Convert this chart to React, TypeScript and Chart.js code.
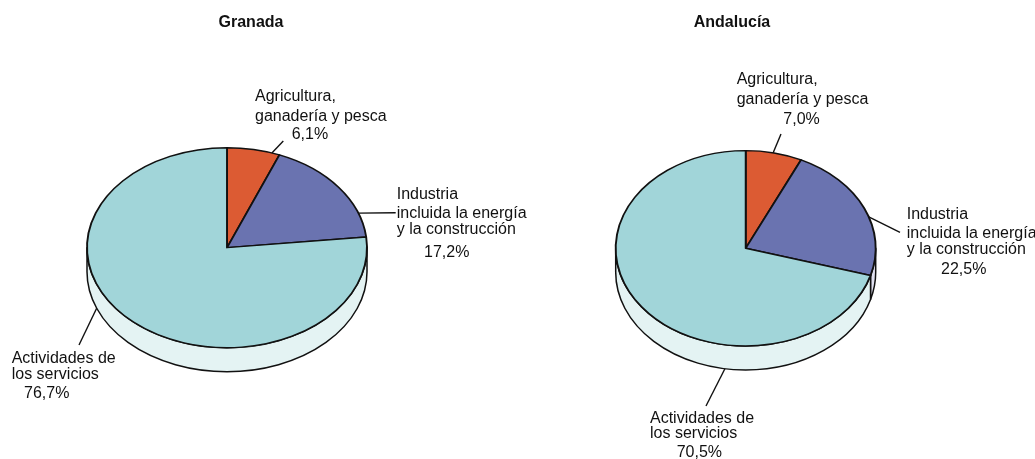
import React, { useEffect, useRef } from "react";
import { Chart, registerables } from "chart.js";

Chart.register(...registerables);

// ---- Data ----
const categories = [
  "Agricultura, ganadería y pesca",
  "Industria incluida la energía y la construcción",
  "Actividades de los servicios",
];
const categoryLines = [
  ["Agricultura,", "ganadería y pesca"],
  ["Industria", "incluida la energía", "y la construcción"],
  ["Actividades de", "los servicios"],
];
const chartTitles = ["Granada", "Andalucía"];
const granadaValues = [6.1, 17.2, 76.7];
const andaluciaValues = [7.0, 22.5, 70.5];
const granadaPctLabels = ["6,1%", "17,2%", "76,7%"];
const andaluciaPctLabels = ["7,0%", "22,5%", "70,5%"];

// ---- Styles ----
const topColors = ["#dc5b33", "#6a73b0", "#a1d5d9"];
const sideColors = ["#f3d3c6", "#e0e0f0", "#e4f3f3"];
const W = 1035;
const H = 459;
const FONT = "'Liberation Sans', Arial, Helvetica, sans-serif";

type LabelLayout = {
  xs: number[];
  ys: number[];
  from: [number, number];
  angle: number;
  side: boolean;
};
type PieLayout = {
  cx: number;
  cy: number;
  radius: number;
  scaleY: number;
  depth: number;
  titleX: number;
  titleY: number;
  labels: LabelLayout[];
};

const granadaLayout: PieLayout = {
  cx: 227,
  cy: 247.7,
  radius: 140,
  scaleY: 100 / 140,
  depth: 24,
  titleX: 251,
  titleY: 22.7,
  labels: [
    { xs: [255, 255, 291.7], ys: [96.7, 116.7, 135], from: [283.3, 141], angle: -71.3, side: false },
    { xs: [396.7, 396.7, 396.7, 424], ys: [195, 213.3, 229.5, 253], from: [395.7, 212.7], angle: -20.2, side: false },
    { xs: [11.7, 11.7, 24], ys: [359, 375, 393.3], from: [79, 345], angle: 158.6, side: true },
  ],
};

const andaluciaLayout: PieLayout = {
  cx: 745.7,
  cy: 248.3,
  radius: 130,
  scaleY: 97.7 / 130,
  depth: 24,
  titleX: 732,
  titleY: 22.7,
  labels: [
    { xs: [736.7, 736.7, 783.3], ys: [80, 100, 120], from: [781, 134], angle: -77.8, side: false },
    { xs: [906.7, 906.7, 906.7, 941], ys: [215, 233.3, 250, 269.3], from: [900, 232.3], angle: -18.8, side: false },
    { xs: [650, 650, 676.7], ys: [418.3, 434, 452.7], from: [706, 406], angle: 99.2, side: true },
  ],
};

function makePie3d(layout: PieLayout, title: string, pctLabels: string[]) {
  let center = { x: 0, y: 0, r: 0 };
  return {
    id: "pie3d",
    beforeDatasetsDraw(chart: any) {
      const arcs = chart.getDatasetMeta(0).data as any[];
      if (!arcs.length) return;
      const p0 = arcs[0].getProps(["x", "y", "outerRadius"], true);
      const cx = p0.x, cy = p0.y, r = p0.outerRadius;
      center = { x: cx, y: cy, r };
      const ry = r * layout.scaleY;
      const ctx = chart.ctx as CanvasRenderingContext2D;
      ctx.save();
      ctx.lineWidth = 1.5;
      ctx.strokeStyle = "#111";
      ctx.lineJoin = "round";
      arcs.forEach((arc, i) => {
        const { startAngle, endAngle } = arc.getProps(["startAngle", "endAngle"], true);
        const a0 = Math.max(startAngle, 0);
        const a1 = Math.min(endAngle, Math.PI);
        if (a1 <= a0) return;
        ctx.beginPath();
        ctx.ellipse(cx, cy, r, ry, 0, a0, a1);
        ctx.ellipse(cx, cy + layout.depth, r, ry, 0, a1, a0, true);
        ctx.closePath();
        ctx.fillStyle = sideColors[i];
        ctx.fill();
        ctx.stroke();
      });
      ctx.restore();
      ctx.save();
      ctx.translate(cx, cy);
      ctx.scale(1, layout.scaleY);
      ctx.translate(-cx, -cy);
    },
    afterDatasetsDraw(chart: any) {
      const arcs = chart.getDatasetMeta(0).data as any[];
      if (!arcs.length) return;
      chart.ctx.restore();
    },
    afterDraw(chart: any) {
      const ctx = chart.ctx as CanvasRenderingContext2D;
      const { x: cx, y: cy, r } = center;
      const ry = r * layout.scaleY;
      ctx.save();
      ctx.fillStyle = "#111";
      ctx.textBaseline = "middle";
      ctx.textAlign = "center";
      ctx.font = `bold 16px ${FONT}`;
      ctx.fillText(title, layout.titleX, layout.titleY);
      ctx.textAlign = "left";
      ctx.font = `16px ${FONT}`;
      layout.labels.forEach((lab, i) => {
        const lines = [...categoryLines[i], pctLabels[i]];
        lines.forEach((t, j) => ctx.fillText(t, lab.xs[j], lab.ys[j]));
        const a = (lab.angle * Math.PI) / 180;
        const ax = cx + r * Math.cos(a);
        const ay = cy + ry * Math.sin(a) + (lab.side ? layout.depth : 0);
        ctx.beginPath();
        ctx.moveTo(lab.from[0], lab.from[1]);
        ctx.lineTo(ax, ay);
        ctx.lineWidth = 1.4;
        ctx.strokeStyle = "#111";
        ctx.stroke();
      });
      ctx.restore();
    },
  };
}

function PieCanvas({ layout, title, values, pctLabels }: { layout: PieLayout; title: string; values: number[]; pctLabels: string[] }) {
  const ref = useRef<HTMLCanvasElement>(null);
  useEffect(() => {
    if (!ref.current) return;
    const hw = Math.min(layout.cx, W - layout.cx);
    const hh = Math.min(layout.cy, H - layout.cy);
    const chart = new Chart(ref.current, {
      type: "pie",
      data: {
        labels: categories,
        datasets: [
          {
            data: values,
            backgroundColor: topColors,
            borderColor: "#111",
            borderWidth: 1.9,
            borderJoinStyle: "round",
            radius: layout.radius,
          } as any,
        ],
      },
      options: {
        animation: false,
        responsive: false,
        events: [],
        layout: {
          padding: {
            left: layout.cx - hw,
            right: W - layout.cx - hw,
            top: layout.cy - hh,
            bottom: H - layout.cy - hh,
          },
        },
        plugins: {
          legend: { display: false },
          tooltip: { enabled: false },
          title: { display: false },
        },
      },
      plugins: [makePie3d(layout, title, pctLabels)],
    });
    return () => chart.destroy();
  }, []);
  return (
    <canvas
      ref={ref}
      width={W}
      height={H}
      style={{ position: "absolute", left: 0, top: 0, width: W, height: H }}
    />
  );
}

export default function App() {
  return (
    <div style={{ position: "absolute", left: 0, top: 0, width: W, height: H, background: "#fff" }}>
      <PieCanvas layout={granadaLayout} title={chartTitles[0]} values={granadaValues} pctLabels={granadaPctLabels} />
      <PieCanvas layout={andaluciaLayout} title={chartTitles[1]} values={andaluciaValues} pctLabels={andaluciaPctLabels} />
    </div>
  );
}
